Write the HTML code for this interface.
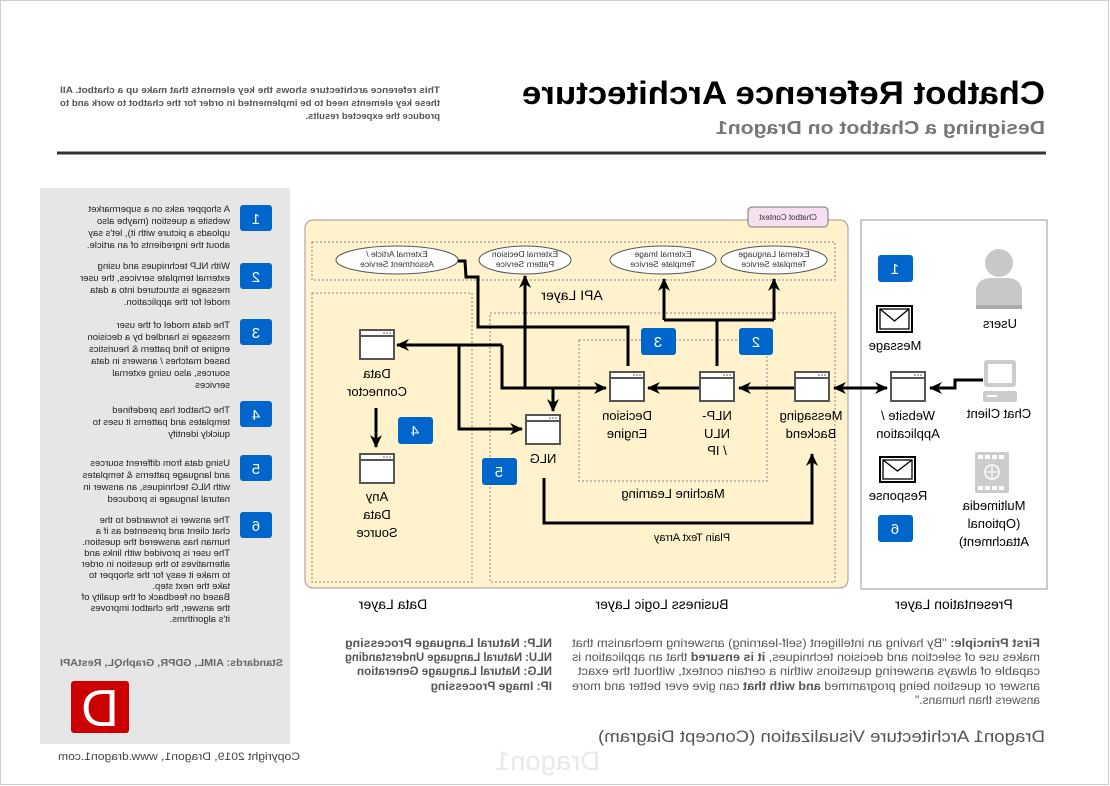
<!DOCTYPE html>
<html><head><meta charset="utf-8"><style>
html,body{margin:0;padding:0;background:#fff;}
svg{display:block;}
text{font-family:"Liberation Sans",Arial,sans-serif;}
.n{font-family:"Liberation Sans Narrow","Liberation Sans",sans-serif;}
</style></head><body>
<svg width="1110" height="786" viewBox="0 0 1110 786" xmlns="http://www.w3.org/2000/svg">
<defs>
<marker id="ah" markerUnits="userSpaceOnUse" markerWidth="14" markerHeight="14" refX="12" refY="7" orient="auto">
<path d="M0,1 L13,7 L0,13 L4,7 Z" fill="#000"/></marker>
<marker id="ahs" markerUnits="userSpaceOnUse" markerWidth="14" markerHeight="14" refX="2" refY="7" orient="auto">
<path d="M14,1 L1,7 L14,13 L10,7 Z" fill="#000"/></marker>
<g id="win"><rect x="0" y="0" width="34" height="29" fill="#fff" stroke="#555" stroke-width="2"/><line x1="0" y1="6" x2="34" y2="6" stroke="#555" stroke-width="2"/><circle cx="24" cy="3" r="0.8" fill="#555"/><circle cx="27" cy="3" r="0.8" fill="#555"/><circle cx="30" cy="3" r="0.8" fill="#555"/></g>
</defs>
<rect x="0.5" y="0.5" width="1108" height="784" fill="#fff" stroke="#ccc"/>
<line x1="57" y1="153" x2="1046" y2="153" stroke="#333" stroke-width="3"/>
<rect x="40" y="188" width="250" height="556" fill="#e6e6e6"/>
<g fill="#0066cc">
<rect x="240" y="205" width="32" height="26" rx="3"/><rect x="240" y="263" width="32" height="26" rx="3"/><rect x="240" y="319" width="32" height="26" rx="3"/><rect x="240" y="401" width="32" height="26" rx="3"/><rect x="240" y="455" width="32" height="26" rx="3"/><rect x="240" y="512" width="32" height="26" rx="3"/>
</g>
<rect x="71" y="681" width="58" height="52" rx="3" fill="#cc0000"/>
<rect x="305" y="220" width="543" height="368" rx="8" fill="#fff2cc" stroke="#999"/>
<rect x="748" y="207" width="80" height="20" rx="4" fill="#f5dff0" stroke="#777"/>
<g fill="none" stroke="#888" stroke-dasharray="2,2">
<rect x="312" y="242" width="523" height="38"/>
<rect x="312" y="293" width="160" height="289"/>
<rect x="490" y="313" width="345" height="269"/>
<rect x="579" y="340" width="188" height="141"/>
</g>
<g fill="#fff" stroke="#555">
<ellipse cx="397" cy="260" rx="61" ry="14"/>
<ellipse cx="525" cy="260" rx="46" ry="14"/>
<ellipse cx="663" cy="260" rx="53" ry="14"/>
<ellipse cx="774" cy="260" rx="53" ry="14"/>
</g>
<rect x="861" y="220" width="186" height="369" fill="#fff" stroke="#999"/>
<use href="#win" x="360" y="330"/><use href="#win" x="360" y="454"/><use href="#win" x="526" y="415"/>
<use href="#win" x="610" y="372"/><use href="#win" x="700" y="372"/><use href="#win" x="795" y="372"/><use href="#win" x="891" y="372"/>
<g fill="#0066cc">
<rect x="878" y="255" width="35" height="27" rx="3"/><rect x="739" y="328" width="34" height="27" rx="3"/><rect x="641" y="328" width="35" height="27" rx="3"/><rect x="398" y="417" width="35" height="27" rx="3"/><rect x="482" y="458" width="35" height="27" rx="3"/><rect x="878" y="515" width="35" height="27" rx="3"/>
</g>
<g fill="#c8c8c8"><circle cx="999" cy="263" r="14"/><path d="M976,309 L976,292 Q976,279 990,278 L1008,278 Q1022,279 1022,292 L1022,309 Z"/></g>
<rect x="976" y="305" width="46" height="4" fill="#aaa"/>
<g fill="#fff" stroke="#000" stroke-width="2"><rect x="877" y="306" width="35" height="26"/><rect x="880" y="457" width="35" height="25"/></g>
<g fill="none" stroke="#000" stroke-width="1.3"><rect x="880" y="309" width="29" height="20"/><path d="M880,309 L894.5,321 L909,309"/><rect x="883" y="460" width="29" height="19"/><path d="M883,460 L897.5,471 L912,460"/></g>
<rect x="984" y="360" width="32" height="27" rx="3" fill="#ccc"/><rect x="988" y="364" width="24" height="19" fill="#fff"/>
<rect x="983" y="391" width="34" height="11" rx="2" fill="#ccc"/><rect x="987" y="395" width="10" height="2" fill="#fff"/>
<rect x="975" y="452" width="34" height="41" rx="2" fill="#ccc"/>
<g fill="#fff"><rect x="978" y="455" width="5" height="4"/><rect x="985" y="455" width="5" height="4"/><rect x="992" y="455" width="5" height="4"/><rect x="999" y="455" width="5" height="4"/><rect x="978" y="486" width="5" height="4"/><rect x="985" y="486" width="5" height="4"/><rect x="992" y="486" width="5" height="4"/><rect x="999" y="486" width="5" height="4"/></g>
<circle cx="992" cy="472" r="7" fill="none" stroke="#fff" stroke-width="1.5"/><line x1="992" y1="465" x2="992" y2="479" stroke="#fff"/><line x1="985" y1="472" x2="999" y2="472" stroke="#fff"/>
<g fill="none" stroke="#000" stroke-width="3">
<path d="M983,380 L955,380 L955,388 L930,388" marker-end="url(#ah)"/>
<path d="M887,388 L834,388" marker-start="url(#ahs)" marker-end="url(#ah)"/>
<path d="M794,388 L739,388" marker-end="url(#ah)"/>
<path d="M699,388 L648,388" marker-end="url(#ah)"/>
<path d="M502,345 L502,388 L606,388" marker-end="url(#ah)"/>
<path d="M502,345 L397,345" marker-end="url(#ah)"/>
<path d="M459,345 L459,429 L522,429" marker-end="url(#ah)"/>
<path d="M525,388 L525,276" marker-end="url(#ah)"/>
<path d="M553,388 L553,411" marker-end="url(#ah)"/>
<path d="M458,261 L465,261 L466,277 L478,277 L478,327 L628,327 L628,366"/>
<path d="M717,366 L717,320"/>
<path d="M664,320 L774,320"/>
<path d="M664,320 L664,279" marker-end="url(#ah)"/>
<path d="M774,320 L774,279" marker-end="url(#ah)"/>
<path d="M544,478 L544,523 L812,523 L812,454" marker-end="url(#ah)"/>
<path d="M376,408 L376,447" marker-end="url(#ah)"/>
</g>
<g transform="translate(1110,0) scale(-1,1)">
<text x="65" y="104" font-size="32" font-weight="bold" fill="#000" textLength="523" lengthAdjust="spacingAndGlyphs">Chatbot Reference Architecture</text>
<text x="65" y="134" font-size="18" font-weight="bold" fill="#777" textLength="329" lengthAdjust="spacingAndGlyphs">Designing a Chatbot on Dragon1</text>
<g font-size="9.5" font-weight="bold" fill="#555">
<text x="670" y="93" textLength="380" lengthAdjust="spacingAndGlyphs">This reference architecture shows the key elements that make up a chatbot. All</text>
<text x="670" y="106" textLength="380" lengthAdjust="spacingAndGlyphs">these key elements need to be implemented in order for the chatbot to work and to</text>
<text x="670" y="119">produce the expected results.</text>
</g>
<g font-size="9.5" fill="#222">
<text x="880" y="212">A shopper asks on a supermarket</text><text x="880" y="224">website a question (maybe also</text><text x="880" y="236">uploads a picture with it), let's say</text><text x="880" y="248">about the ingredients of an article.</text>
<text x="880" y="269">With NLP techniques and using</text><text x="880" y="281">external template services, the user</text><text x="880" y="293">message is structured into a data</text><text x="880" y="305">model for the application.</text>
<text x="880" y="328">The data model of the user</text><text x="880" y="340">message is handled by a decision</text><text x="880" y="352">engine to find pattern &amp; heuristics</text><text x="880" y="364">based matches / answers in data</text><text x="880" y="376">sources, also using external</text><text x="880" y="388">services</text>
<text x="880" y="413">The Chatbot has predefined</text><text x="880" y="425">templates and patterns it uses to</text><text x="880" y="437">quickly identify</text>
<text x="880" y="466">Using data from different sources</text><text x="880" y="478">and language patterns &amp; templates</text><text x="880" y="490">with NLG techniques, an answer in</text><text x="880" y="502">natural language is produced</text>
<text x="880" y="523">The answer is forwarded to the</text><text x="880" y="534">chat client and presented as if a</text><text x="880" y="545">human has answered the question.</text><text x="880" y="556">The user is provided with links and</text><text x="880" y="567">alternatives to the question in order</text><text x="880" y="578">to make it easy for the shopper to</text><text x="880" y="589">take the next step.</text><text x="880" y="600">Based on feedback of the quality of</text><text x="880" y="611">the answer, the chatbot improves</text><text x="880" y="622">it's algorithms.</text>
</g>
<text x="827" y="666" font-size="10" font-weight="bold" fill="#666" textLength="223" lengthAdjust="spacingAndGlyphs">Standards: AIML, GDPR, GraphQL, RestAPI</text>
<text x="1010" y="726" font-size="52" fill="#fff" text-anchor="middle" font-family="Liberation Serif,serif">D</text>
<text x="810" y="760" font-size="11" fill="#444" textLength="242" lengthAdjust="spacingAndGlyphs">Copyright 2019, Dragon1, www.dragon1.com</text>
<text x="65" y="742" font-size="17" fill="#555" textLength="447" lengthAdjust="spacingAndGlyphs">Dragon1 Architecture Visualization (Concept Diagram)</text>
<text x="510" y="770" font-size="27" fill="#e8e8e8" textLength="105" lengthAdjust="spacingAndGlyphs">Dragon1</text>
<g class="n" font-size="12" fill="#555">
<text x="70" y="647" textLength="468" lengthAdjust="spacingAndGlyphs"><tspan font-weight="bold">First Principle:</tspan> "By having an intelligent (self-learning) answering mechanism that</text>
<text x="70" y="661" textLength="468" lengthAdjust="spacingAndGlyphs">makes use of selection and decision techniques, <tspan font-weight="bold">it is ensured</tspan> that an application is</text>
<text x="70" y="675" textLength="462" lengthAdjust="spacingAndGlyphs">capable of always answering questions within a certain context, without the exact</text>
<text x="70" y="690" textLength="468" lengthAdjust="spacingAndGlyphs">answer or question being programmed <tspan font-weight="bold">and with that</tspan> can give ever better and more</text>
<text x="70" y="704">answers than humans."</text>
<g font-weight="bold">
<text x="558" y="647" textLength="207" lengthAdjust="spacingAndGlyphs">NLP: Natural Language Processing</text>
<text x="558" y="661" textLength="207" lengthAdjust="spacingAndGlyphs">NLU: Natural Language Understanding</text>
<text x="558" y="675" textLength="195" lengthAdjust="spacingAndGlyphs">NLG: Natural Language Generation</text>
<text x="558" y="690">IP: Image Processing</text>
</g></g>
<g font-size="15" fill="#fff" text-anchor="middle">
<text x="854" y="224">1</text><text x="854" y="282">2</text><text x="854" y="338">3</text><text x="854" y="420">4</text><text x="854" y="474">5</text><text x="854" y="531">6</text>
<text x="215" y="274">1</text><text x="354" y="347">2</text><text x="452" y="347">3</text><text x="695" y="436">4</text><text x="611" y="477">5</text><text x="215" y="534">6</text>
</g>
<g font-size="8.5" fill="#333" text-anchor="middle">
<text x="322" y="220" font-size="8">Chatbot Context</text>
<text x="713" y="257">External Article /</text><text x="713" y="267">Assortment Service</text>
<text x="585" y="257">External Decision</text><text x="585" y="267">Pattern Service</text>
<text x="447" y="257">External Image</text><text x="447" y="267">Template Service</text>
<text x="336" y="257">External Language</text><text x="336" y="267">Template Service</text>
</g>
<g font-size="13" fill="#000" text-anchor="middle">
<text x="538" y="300" font-size="14">API Layer</text>
<text x="733" y="378">Data</text><text x="733" y="396">Connector</text>
<text x="733" y="501">Any</text><text x="733" y="519">Data</text><text x="733" y="537">Source</text>
<text x="567" y="463">NLG</text>
<text x="483" y="420">Decision</text><text x="483" y="438">Engine</text>
<text x="393" y="420">NLP-</text><text x="393" y="438">NLU</text><text x="393" y="455">/ IP</text>
<text x="299" y="420">Messaging</text><text x="299" y="438">Backend</text>
<text x="437" y="498">Machine Learning</text>
<text x="418" y="541" font-size="11">Plain Text Array</text>
<text x="202" y="420">Website /</text><text x="202" y="438">Application</text>
<text x="110" y="328">Users</text>
<text x="215" y="350">Message</text>
<text x="111" y="418">Chat Client</text>
<text x="212" y="500">Response</text>
<text x="116" y="510">Multimedia</text><text x="116" y="528">(Optional</text><text x="116" y="546">Attachment)</text>
<text x="717" y="609" font-size="14">Data Layer</text>
<text x="448" y="609" font-size="14">Business Logic Layer</text>
<text x="156" y="609" font-size="14">Presentation Layer</text>
</g>
</g>
</svg>
</body></html>
